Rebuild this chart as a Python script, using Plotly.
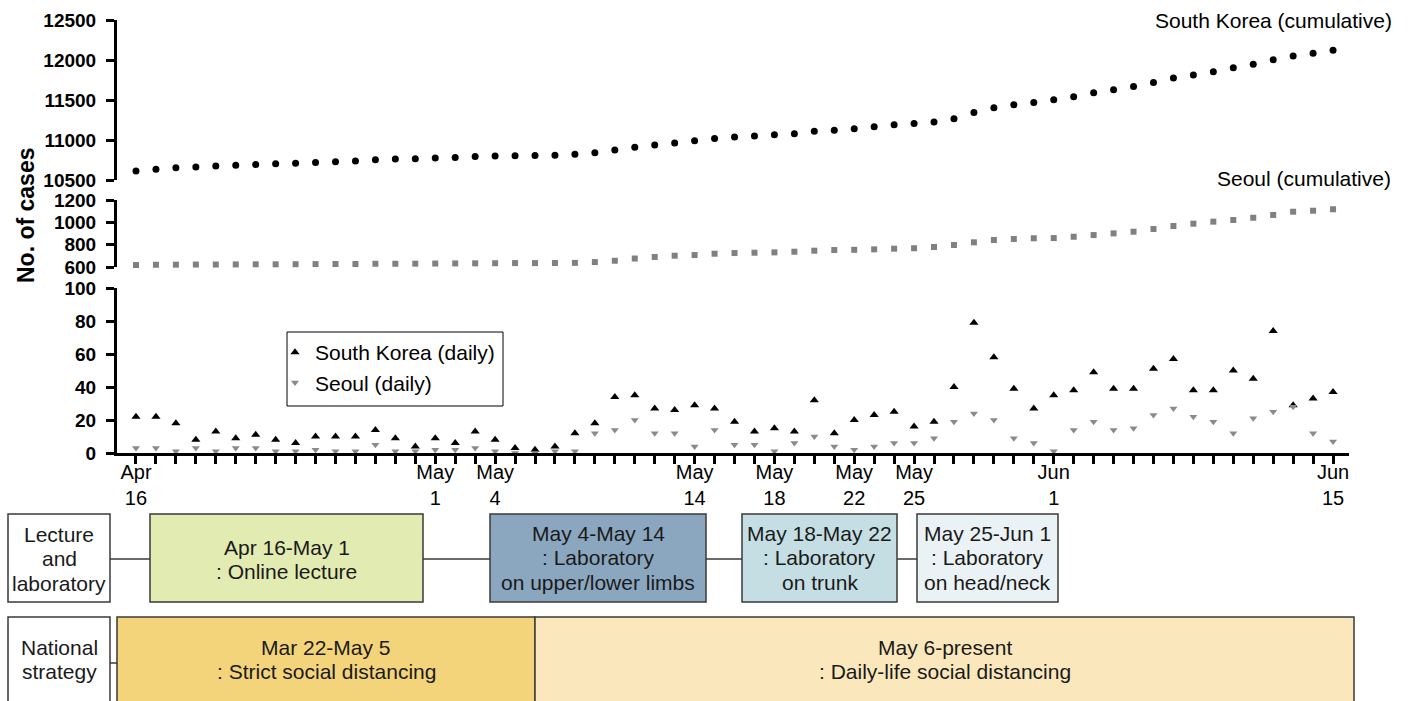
import plotly.graph_objects as go
import pandas as pd

W, H = 1409, 701

# ---------------- data ----------------
dates = pd.date_range("2020-04-16", "2020-06-15", freq="D")

korea_cum = [10613, 10635, 10653, 10661, 10674, 10683, 10694, 10702, 10708, 10718,
             10728, 10738, 10752, 10761, 10765,
             10774, 10780, 10793, 10801, 10804, 10806, 10810, 10822, 10840, 10874,
             10909, 10936, 10962, 10991, 11018, 11037, 11050, 11065, 11078, 11110,
             11122, 11142, 11165, 11190, 11206, 11225, 11265, 11344, 11402, 11441, 11468,
             11503, 11541, 11590, 11629, 11668, 11719, 11776, 11814, 11852, 11902,
             11947, 12003, 12051, 12085, 12121]

seoul_cum = [618, 620, 621, 622, 622, 623, 624, 624, 625, 626, 627, 627, 629, 629, 630,
             631, 632, 633, 634, 635, 635, 636, 637,
             644, 656, 676, 690, 701, 707, 719, 725, 728, 731, 737, 746, 752, 754, 758,
             764, 768, 779, 797, 821, 842, 851, 857,
             859, 871, 886, 901, 916, 940, 967, 988, 1006, 1021, 1041, 1066, 1095, 1104, 1117]

korea_daily = [22, 22, 18, 8, 13, 9, 11, 8, 6, 10, 10, 10, 14, 9, 4,
               9, 6, 13, 8, 3, 2, 4, 12, 18, 34, 35, 27, 26, 29, 27, 19, 13, 15, 13, 32,
               12, 20, 23, 25, 16, 19, 40, 79, 58, 39, 27,
               35, 38, 49, 39, 39, 51, 57, 38, 38, 50, 45, 74, 29, 33, 37]

seoul_daily = [3, 3, 1, 3, 1, 3, 3, 1, 1, 2, 1, 1, 5, 1, 1,
               2, 2, 3, 1, 0, 0, 1, 1, 12, 14, 20, 12, 12, 4, 14, 5, 5, 1, 6, 10,
               4, 2, 4, 6, 6, 9, 19, 24, 20, 9, 6,
               1, 14, 19, 14, 15, 23, 27, 22, 19, 12, 21, 25, 28, 12, 7]

tick_dates = ["2020-04-16", "2020-05-01", "2020-05-04", "2020-05-14", "2020-05-18",
              "2020-05-22", "2020-05-25", "2020-06-01", "2020-06-15"]
tick_labels = ["Apr<br>16", "May<br>1", "May<br>4", "May<br>14", "May<br>18",
               "May<br>22", "May<br>25", "Jun<br>1", "Jun<br>15"]

lecture_periods = ["Apr 16-May 1|: Online lecture",
                   "May 4-May 14|: Laboratory|on upper/lower limbs",
                   "May 18-May 22|: Laboratory|on trunk",
                   "May 25-Jun 1|: Laboratory|on head/neck"]
strategy_periods = ["Mar 22-May 5|: Strict social distancing",
                    "May 6-present|: Daily-life social distancing"]

# ---------------- helpers ----------------
def px(x):
    return x / W


def py(y):
    return 1 - y / H


FONT = "Liberation Sans, Arial, Helvetica, sans-serif"

fig = go.Figure()
fig.add_trace(go.Scatter(x=dates, y=korea_cum, mode="markers", yaxis="y",
                         name="South Korea (cumulative)", showlegend=False, cliponaxis=False,
                         marker=dict(symbol="circle", size=7, color="black")))
fig.add_trace(go.Scatter(x=dates, y=seoul_cum, mode="markers", yaxis="y2",
                         name="Seoul (cumulative)", showlegend=False, cliponaxis=False,
                         marker=dict(symbol="square", size=6, color="#808080")))
fig.add_trace(go.Scatter(x=dates, y=korea_daily, mode="markers", yaxis="y3",
                         name="South Korea (daily)", cliponaxis=False,
                         marker=dict(symbol="triangle-up", size=8, color="black")))
fig.add_trace(go.Scatter(x=dates, y=seoul_daily, mode="markers", yaxis="y3",
                         name="Seoul (daily)", cliponaxis=False,
                         marker=dict(symbol="triangle-down", size=7, color="#8a8a8a")))

day = pd.Timedelta(days=1)
x_start = dates[0] - 0.952 * day
x_end = dates[-1] + 0.80 * day

tick_map = dict(zip(pd.to_datetime(tick_dates), tick_labels))
all_ticktext = [tick_map.get(d, "") for d in dates]

axis_common = dict(showline=True, linewidth=3, linecolor="black", ticks="outside",
                   ticklen=8, tickwidth=3, tickcolor="black", showgrid=False,
                   zeroline=False, fixedrange=True, automargin=False)

yfont = dict(family=FONT, size=19, color="black", weight="bold")

fig.update_layout(
    width=W, height=H,
    margin=dict(l=0, r=0, t=0, b=0, autoexpand=False),
    paper_bgcolor="white", plot_bgcolor="white",
    font=dict(family=FONT, color="black"),
    xaxis=dict(domain=[px(117), px(1349)], anchor="y3", range=[x_start, x_end],
               tickmode="array", tickvals=list(dates), ticktext=all_ticktext,
               tickfont=dict(family=FONT, size=20, color="black"), tickangle=0,
               ticklabelstandoff=-9, **axis_common),
    yaxis=dict(domain=[py(180), py(20)], range=[10500, 12500], anchor="x",
               tickvals=[10500, 11000, 11500, 12000, 12500], tickformat="d",
               tickfont=yfont, ticklabelstandoff=6, **axis_common),
    yaxis2=dict(domain=[py(267), py(200)], range=[600, 1200], anchor="x",
                tickvals=[600, 800, 1000, 1200], tickformat="d",
                tickfont=yfont, ticklabelstandoff=6, **axis_common),
    yaxis3=dict(domain=[py(453), py(288)], range=[0, 100], anchor="x",
                tickvals=[0, 20, 40, 60, 80, 100], tickformat="d",
                tickfont=yfont, ticklabelstandoff=6, **axis_common),
    legend=dict(x=px(275), y=py(332), xanchor="left", yanchor="top",
                borderwidth=0, bgcolor="rgba(0,0,0,0)",
                font=dict(family=FONT, size=21, color="black"),
                itemwidth=30, tracegroupgap=0),
    showlegend=True,
)

annotations = [
    dict(text="No. of cases", x=px(26), y=py(215), textangle=-90, showarrow=False,
         xref="paper", yref="paper", xanchor="center", yanchor="middle",
         font=dict(family=FONT, size=23, color="black", weight="bold")),
    dict(text="South Korea (cumulative)", x=px(1394), y=py(20), xanchor="right",
         yanchor="middle", xref="paper", yref="paper",
         showarrow=False, font=dict(family=FONT, size=21, color="black")),
    dict(text="Seoul (cumulative)", x=px(1393), y=py(178), xanchor="right",
         yanchor="middle", xref="paper", yref="paper",
         showarrow=False, font=dict(family=FONT, size=21, color="black")),
]

shapes = [
    # legend frame
    dict(type="rect", xref="paper", yref="paper", x0=px(287), x1=px(503),
         y0=py(406), y1=py(332), line=dict(color="black", width=1), fillcolor="rgba(0,0,0,0)"),
]


def box(x0, y0, x1, y1, fill, lines, text_y):
    shapes.append(dict(type="rect", xref="paper", yref="paper",
                       x0=px(x0), x1=px(x1), y0=py(y1), y1=py(y0),
                       fillcolor=fill, line=dict(color="#3a3a3a", width=1.5), layer="below"))
    cx = (x0 + x1) / 2
    for i, t in enumerate(lines):
        annotations.append(dict(text=t, x=px(cx), y=py(text_y + 24.5 * i),
                                xref="paper", yref="paper",
                                xanchor="center", yanchor="middle", showarrow=False,
                                font=dict(family=FONT, size=21, color="#1a1a1a")))


def hline(x0, x1, y):
    shapes.append(dict(type="line", xref="paper", yref="paper",
                       x0=px(x0), x1=px(x1), y0=py(y), y1=py(y),
                       line=dict(color="#3a3a3a", width=1.5), layer="below"))


# connector lines
hline(110, 150, 559)
hline(423, 490, 559)
hline(706, 742, 559)
hline(897, 917, 559)
hline(110, 117, 663)

# lecture row
box(8, 514, 110, 602, "white", ["Lecture", "and", "laboratory"], 534)
lp = [s.split("|") for s in lecture_periods]
box(150, 514, 423, 602, "#E2EBB1", lp[0], 547)
box(490, 514, 706, 602, "#8BA7BF", lp[1], 533)
box(742, 514, 897, 602, "#C4DEE3", lp[2], 533)
box(917, 514, 1058, 602, "#EAF2F5", lp[3], 533)

# national strategy row
sp = [s.split("|") for s in strategy_periods]
box(8, 617, 110, 706, "white", ["National", "strategy"], 647)
box(117, 617, 535, 706, "#F4D47A", sp[0], 647)
box(535, 617, 1354, 706, "#FAE8BC", sp[1], 647)

fig.update_layout(annotations=annotations, shapes=shapes)

fig.write_html("out.html", config={"displayModeBar": False},
               post_script="document.body.style.margin='0px';document.body.style.padding='0px';")
